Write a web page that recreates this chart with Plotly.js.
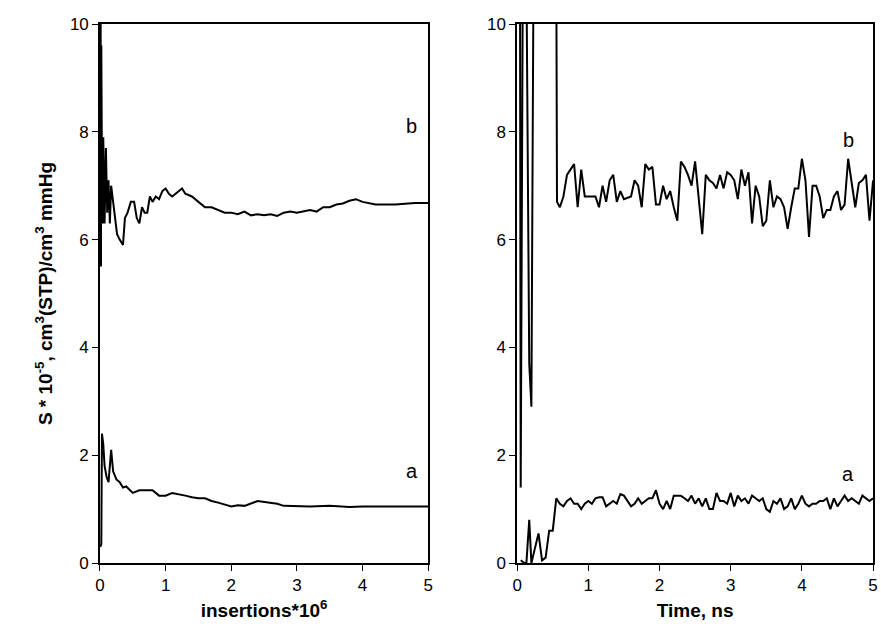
<!DOCTYPE html>
<html>
<head>
<meta charset="utf-8">
<script src="https://cdn.plot.ly/plotly-3.0.1.min.js"></script>
<style>body{margin:0;background:#fff}#plot{width:881px;height:640px}</style>
</head>
<body>
<div id="plot"></div>
<script>
// left panel: insertions * 10^6
var insX_b = [0,0.005,0.01,0.015,0.02,0.03,0.04,0.05,0.07,0.09,0.11,0.13,0.15,0.17,0.19,0.22,0.26,0.3,0.35,0.38,0.42,0.47,0.52,0.56,0.6,0.64,0.68,0.72,0.76,0.8,0.85,0.9,0.95,1.0,1.05,1.1,1.2,1.25,1.3,1.4,1.5,1.6,1.7,1.8,1.9,2.0,2.1,2.2,2.3,2.4,2.5,2.6,2.7,2.8,2.9,3.0,3.1,3.2,3.3,3.4,3.5,3.6,3.7,3.8,3.9,4.0,4.2,4.5,4.8,5.0];
var insY_b = [5.5,8.6,10,5.5,9.6,7.2,6.3,7.9,6.3,7.7,6.5,7.1,6.3,7.0,6.8,6.4,6.1,6.0,5.9,6.4,6.5,6.7,6.7,6.4,6.3,6.6,6.5,6.5,6.8,6.7,6.8,6.75,6.9,6.95,6.85,6.8,6.9,6.95,6.85,6.8,6.7,6.6,6.6,6.55,6.5,6.5,6.47,6.52,6.45,6.47,6.45,6.47,6.44,6.5,6.52,6.5,6.53,6.55,6.52,6.6,6.6,6.65,6.67,6.72,6.75,6.7,6.65,6.65,6.68,6.68];
var insX_a = [0.005,0.02,0.03,0.05,0.07,0.1,0.13,0.17,0.2,0.25,0.3,0.35,0.4,0.45,0.5,0.6,0.7,0.8,0.9,1.0,1.1,1.2,1.3,1.4,1.5,1.6,1.7,1.8,1.9,2.0,2.1,2.2,2.4,2.6,2.7,2.8,3.0,3.2,3.5,3.8,4.0,4.5,5.0];
var insY_a = [0.3,0.35,2.4,2.2,1.8,1.6,1.5,2.1,1.7,1.55,1.5,1.4,1.42,1.35,1.3,1.35,1.35,1.35,1.25,1.25,1.3,1.28,1.25,1.22,1.2,1.2,1.15,1.12,1.08,1.05,1.07,1.06,1.15,1.12,1.1,1.06,1.05,1.05,1.06,1.04,1.05,1.05,1.05];

// right panel: time, ns
var timeX_b = [0.04,0.05,0.08,0.1,0.13,0.17,0.2,0.23,0.3,0.55,0.56,0.6,0.65,0.7,0.8,0.85,0.9,0.95,1.0,1.1,1.15,1.2,1.25,1.3,1.35,1.4,1.45,1.5,1.6,1.65,1.7,1.75,1.8,1.85,1.9,1.95,2.0,2.05,2.1,2.15,2.2,2.25,2.3,2.35,2.4,2.45,2.5,2.55,2.6,2.65,2.7,2.75,2.8,2.85,2.9,2.95,3.0,3.05,3.1,3.15,3.2,3.25,3.3,3.35,3.4,3.45,3.5,3.55,3.6,3.65,3.7,3.75,3.8,3.85,3.9,3.95,4.0,4.05,4.1,4.15,4.2,4.25,4.3,4.35,4.4,4.45,4.5,4.55,4.6,4.65,4.7,4.75,4.8,4.85,4.9,4.95,5.0];
var timeY_b = [11,1.4,11,11,11,3.7,2.9,11,11,11,6.7,6.6,6.8,7.2,7.4,6.6,7.3,6.8,6.8,6.8,6.6,7.0,6.7,7.1,7.2,6.7,6.9,6.75,6.8,7.1,7.0,6.6,7.4,7.3,7.35,6.65,6.65,7.0,6.75,6.9,6.6,6.35,7.45,7.35,7.2,7.0,7.45,6.7,6.1,7.2,7.1,7.05,6.95,7.2,6.95,7.25,7.2,7.1,6.75,7.3,7.0,7.25,6.3,7.0,6.8,6.25,6.35,7.1,6.6,6.8,6.75,6.6,6.2,6.6,6.95,6.95,7.5,7.1,6.05,7.0,7.0,6.8,6.4,6.55,6.55,6.8,6.9,6.55,6.65,7.5,7.0,6.6,7.05,7.1,7.2,6.35,7.1];
var timeX_a = [0.05,0.1,0.13,0.17,0.2,0.25,0.3,0.35,0.4,0.45,0.5,0.55,0.6,0.65,0.7,0.75,0.8,0.85,0.9,0.95,1.0,1.05,1.1,1.15,1.2,1.25,1.3,1.35,1.4,1.45,1.5,1.55,1.6,1.65,1.7,1.75,1.8,1.85,1.9,1.95,2.0,2.05,2.1,2.15,2.2,2.25,2.3,2.35,2.4,2.45,2.5,2.55,2.6,2.65,2.7,2.75,2.8,2.85,2.9,2.95,3.0,3.05,3.1,3.15,3.2,3.25,3.3,3.35,3.4,3.45,3.5,3.55,3.6,3.65,3.7,3.75,3.8,3.85,3.9,3.95,4.0,4.05,4.1,4.15,4.2,4.25,4.3,4.35,4.4,4.45,4.5,4.55,4.6,4.65,4.7,4.75,4.8,4.85,4.9,4.95,5.0];
var timeY_a = [0.05,0,0,0.8,0,0.3,0.55,0.05,0.1,0.6,0.6,1.2,1.1,1.05,1.15,1.2,1.1,1.1,1.0,1.1,1.15,1.1,1.2,1.22,1.22,1.05,1.1,1.15,1.1,1.28,1.25,1.15,1.05,1.1,1.2,1.1,1.15,1.2,1.2,1.35,1.1,1.0,1.15,1.0,1.25,1.25,1.25,1.2,1.15,1.25,1.1,1.2,1.05,1.2,1.0,1.0,1.3,1.15,1.15,1.1,1.3,1.05,1.25,1.15,1.2,1.1,1.25,1.2,1.15,1.2,1.0,0.95,1.15,1.1,1.2,1.0,1.05,1.2,1.0,1.1,1.25,1.1,1.05,1.1,1.1,1.15,1.15,1.2,1.0,1.2,1.05,1.15,1.25,1.15,1.2,1.15,1.1,1.25,1.2,1.15,1.2];

var line = {color: "#000", width: 2};
var data = [
  {x: insX_b, y: insY_b, xaxis: "x", yaxis: "y", mode: "lines", line: line},
  {x: insX_a, y: insY_a, xaxis: "x", yaxis: "y", mode: "lines", line: line},
  {x: timeX_b, y: timeY_b, xaxis: "x2", yaxis: "y2", mode: "lines", line: line},
  {x: timeX_a, y: timeY_a, xaxis: "x2", yaxis: "y2", mode: "lines", line: line}
];

var tickFont = {family: "Liberation Sans, Arial", size: 17, color: "#000"};
var labelFont = {family: "Liberation Sans, Arial", size: 20, color: "#000"};
function ax(extra) {
  var a = {showgrid: false, zeroline: false, showline: true, linecolor: "#000", linewidth: 1.5,
           mirror: true, ticks: "outside", ticklen: 6, tickcolor: "#000", tickfont: tickFont};
  for (var k in extra) a[k] = extra[k];
  return a;
}
var titleFont = {family: "Liberation Sans, Arial", size: 19, color: "#000", weight: "bold"};

var layout = {
  width: 881, height: 640, showlegend: false,
  margin: {l: 0, r: 0, t: 24, b: 77},
  paper_bgcolor: "#fff", plot_bgcolor: "#fff",
  xaxis: ax({domain: [0.1135, 0.486], range: [0, 5], dtick: 1,
             title: {text: "insertions*10<sup>6</sup>", font: titleFont, standoff: 10}}),
  yaxis: ax({range: [0, 10], dtick: 2, anchor: "x",
             title: {text: "S * 10<sup>-5</sup>, cm<sup>3</sup>(STP)/cm<sup>3</sup> mmHg", font: titleFont, standoff: 12}}),
  xaxis2: ax({domain: [0.587, 0.991], range: [0, 5], dtick: 1, anchor: "y2",
              title: {text: "Time, ns", font: titleFont, standoff: 10}}),
  yaxis2: ax({range: [0, 10], dtick: 2, anchor: "x2"}),
  annotations: [
    {x: 4.75, y: 8.1, xref: "x", yref: "y", text: "b", showarrow: false, font: labelFont},
    {x: 4.75, y: 1.7, xref: "x", yref: "y", text: "a", showarrow: false, font: labelFont},
    {x: 4.65, y: 7.85, xref: "x2", yref: "y2", text: "b", showarrow: false, font: labelFont},
    {x: 4.65, y: 1.65, xref: "x2", yref: "y2", text: "a", showarrow: false, font: labelFont}
  ]
};

Plotly.newPlot("plot", data, layout, {displayModeBar: false});
</script>
</body>
</html>
